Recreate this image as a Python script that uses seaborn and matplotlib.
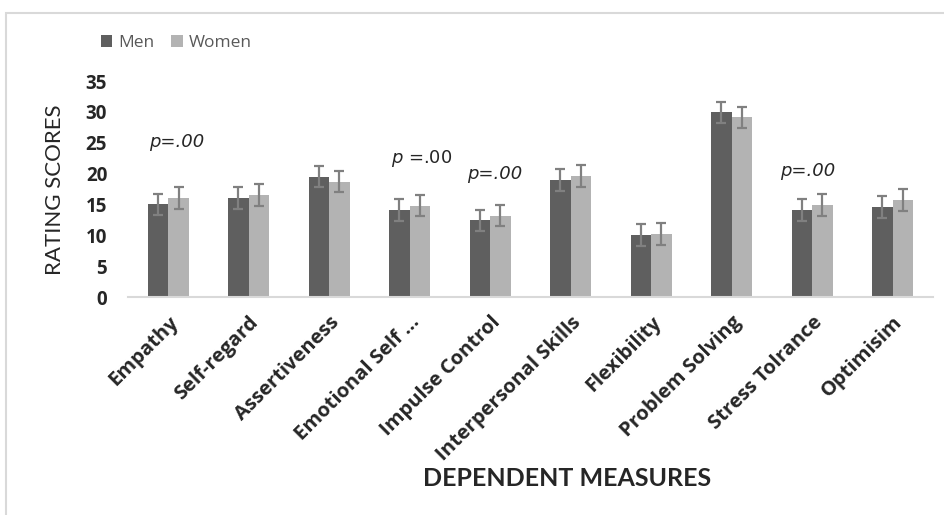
import numpy as np
import pandas as pd
import matplotlib
matplotlib.use("Agg")
import matplotlib.pyplot as plt
import seaborn as sns
from matplotlib.patches import Rectangle

categories = ["Empathy", "Self-regard", "Assertiveness", "Emotional Self ...",
              "Impulse Control", "Interpersonal Skills", "Flexibility",
              "Problem Solving", "Stress Tolrance", "Optimisim"]
men = [15.0, 16.0, 19.5, 14.1, 12.4, 19.0, 10.0, 29.9, 14.1, 14.6]
women = [16.0, 16.5, 18.7, 14.8, 13.2, 19.6, 10.2, 29.1, 14.9, 15.7]
men_err = [1.75, 1.75, 1.75, 1.75, 1.75, 1.75, 1.75, 1.75, 1.75, 1.75]
women_err = [1.75, 1.75, 1.75, 1.75, 1.75, 1.75, 1.75, 1.75, 1.75, 1.75]

# p-value notes: (category index, y value, text, italic)
p_notes = [(0, 25.1, "p=.00", True), (3, 22.5, "$p$ =.00", False),
           (4, 19.9, "p=.00", True), (8, 20.4, "p=.00", True)]
p_offsets = [0.1, 0.15, 0.06, -0.05]

df = pd.DataFrame({
    "measure": categories * 2,
    "score": men + women,
    "sex": ["Men"] * len(categories) + ["Women"] * len(categories),
})

sns.set_theme(style="white")
plt.rcParams["font.family"] = ["Lato", "DejaVu Sans"]

fig = plt.figure(figsize=(9.44, 5.15), dpi=100)
ax = fig.add_axes([0.1356, 0.4233, 0.8525, 0.4194])

colors = {"Men": "#5f5f5f", "Women": "#b3b3b3"}
sns.barplot(data=df, x="measure", y="score", hue="sex", palette=colors,
            errorbar=None, width=0.51, gap=0, saturation=1, ax=ax,
            linewidth=0)

for cont, errs in zip(ax.containers, [men_err, women_err]):
    xs = [p.get_x() + p.get_width() / 2 for p in cont.patches]
    ys = [p.get_height() for p in cont.patches]
    ax.errorbar(xs, ys, yerr=errs, fmt="none", ecolor="#808080",
                elinewidth=1.6, capsize=3.6, capthick=1.6)

ax.set_ylim(0, 35)
ax.set_yticks(np.arange(0, 36, 5))
ax.set_xlim(-0.5, len(categories) - 0.5)
for s in ["top", "right", "left"]:
    ax.spines[s].set_visible(False)
ax.spines["bottom"].set_color("#d9d9d9")
ax.spines["bottom"].set_linewidth(1.5)
ax.tick_params(axis="both", length=0)
ax.tick_params(axis="y", pad=15)
ax.set_yticklabels([str(v) for v in range(0, 36, 5)], fontsize=13.5,
                   fontweight="bold", family="Open Sans")
ax.set_xticks(range(len(categories)))
ax.set_xticklabels(categories, rotation=45, ha="right",
                   rotation_mode="anchor", fontsize=14.5, fontweight="bold",
                   family="Open Sans")
ax.tick_params(axis="x", pad=11)
ax.set_xlabel("")
ax.set_ylabel("")

fig.text(55 / 944, 1 - 190 / 515, "RATING SCORES", rotation=90,
         ha="center", va="center", fontsize=16)

for (i, y, txt, ital), dx in zip(p_notes, p_offsets):
    ax.text(i + dx, y, txt, ha="center", va="center", fontsize=13,
            family="DejaVu Sans", style="italic" if ital else "normal")

fig.text(567 / 944, 1 - 479 / 515, "DEPENDENT MEASURES", ha="center",
         va="center", fontsize=18, fontweight="bold")

leg = ax.get_legend()
handles = leg.legend_handles
leg.remove()
fig.legend(handles, ["Men", "Women"], loc="center left",
           bbox_to_anchor=(85 / 944, 1 - 43 / 515), ncol=2, frameon=False,
           labelcolor="#595959", handlelength=0.65,
           handleheight=0.65, handletextpad=0.35, columnspacing=1.0,
           prop={"family": "Open Sans", "size": 12.5})

fig.patches.append(Rectangle((6 / 944, -0.1), 1.2, 1 - 13 / 515 + 0.1,
                             transform=fig.transFigure, fill=False,
                             edgecolor="#d9d9d9", linewidth=1.5))

fig.savefig("out.png", dpi=100)
